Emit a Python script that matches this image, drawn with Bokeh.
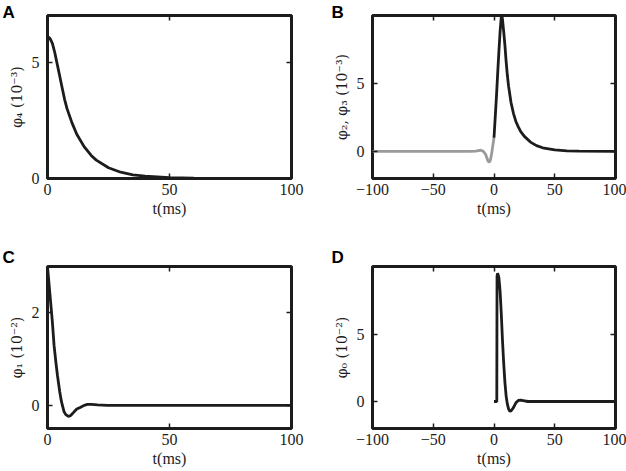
from bokeh.plotting import figure
from bokeh.layouts import gridplot
from bokeh.models import Range1d, LinearAxis, FixedTicker, Title, CustomLabelingPolicy
from bokeh.embed import file_html
from bokeh.resources import INLINE

# ---------------- data ----------------
# Panel A: phi_4 in units of 1e-3
a_t = [0, 1, 2, 3, 4, 5, 6, 7, 8, 10, 12, 15, 18, 20, 25, 30, 35, 40, 50, 60, 70, 100]
a_phi4 = [6.1, 6.02, 5.8, 5.4, 4.9, 4.4, 3.9, 3.4, 3.0, 2.4, 1.9, 1.37, 0.98, 0.79,
          0.46, 0.27, 0.16, 0.1, 0.04, 0.015, 0.005, 0.0]

# Panel B: phi_2 (t < 0, grey) and phi_3 (t >= 0, black), units of 1e-3
b_t_neg = [-100, -20, -15, -13, -11, -9, -7, -6, -5, -4, -3, -2, -1, 0]
b_phi2 = [0, 0, 0.02, 0.06, 0.08, 0.02, -0.2, -0.45, -0.7, -0.8, -0.65, -0.2, 0.4, 1.0]
b_t_pos = [0, 1, 2, 3, 4, 5, 6, 6.5, 7, 8, 9, 10, 11, 12, 14, 16, 18, 20, 22, 25, 30,
           35, 40, 50, 60, 70, 100]
b_phi3 = [1.0, 2.5, 4.0, 5.7, 7.3, 8.8, 9.9, 10.0, 9.7, 8.8, 7.8, 6.6, 5.6, 4.8, 3.6,
          2.8, 2.2, 1.8, 1.45, 1.1, 0.68, 0.42, 0.26, 0.1, 0.04, 0.01, 0.0]

# Panel C: phi_1 in units of 1e-2
c_t = [0, 0.5, 1, 1.5, 2, 2.7, 3.5, 4.1, 5, 5.5, 6, 6.8, 7.5, 8.6, 9.5, 10.9, 12, 13.6,
       15, 16.4, 18, 20.5, 24.5, 30, 100]
c_phi1 = [3.0, 2.7, 2.4, 2.1, 1.8, 1.29, 0.9, 0.64, 0.3, 0.14, 0.02, -0.14, -0.2, -0.24,
          -0.22, -0.14, -0.08, -0.04, 0.0, 0.02, 0.02, 0.01, 0.0, 0.0, 0.0]

# Panel D: phi_0 in units of 1e-2
d_t = [0, 2.3, 2.5, 3.0, 4, 5, 6, 7, 8, 9, 10, 11, 12, 13, 14, 16, 18, 20, 22, 25, 28, 35, 100]
d_phi0 = [0, 0, 9.3, 9.5, 9.2, 8.2, 6.5, 4.5, 2.8, 1.4, 0.4, -0.2, -0.55, -0.72, -0.7,
          -0.45, -0.1, 0.08, 0.1, 0.05, 0.0, 0.0, 0.0]

# axes / labels
x_ticks_pos = [0, 50, 100]
x_ticks_full = [-100, -50, 0, 50, 100]
x_label = "t(ms)"
labels_y = {"A": "φ₄ (10⁻³)", "B": "φ₂, φ₃ (10⁻³)", "C": "φ₁ (10⁻²)", "D": "φ₀ (10⁻²)"}
minus_overrides = {-100: "−100", -50: "−50"}

# ---------------- styling ----------------
INK = "#1c1c1c"
GREY = "#9a9a9a"
SERIF = "Liberation Serif"
SANS = "Liberation Sans"


def panel(letter, letter_offset, letter_standoff, xr, yr, xt, yt, w, h, l, r, t, b):
    p = figure(width=w, height=h, x_range=Range1d(*xr), y_range=Range1d(*yr),
               output_backend="svg", toolbar_location=None,
               min_border_left=l, min_border_right=r, min_border_top=t, min_border_bottom=b,
               background_fill_color="white", border_fill_color="white")
    p.title = Title(text=letter, align="left", vertical_align="bottom",
                    offset=letter_offset, standoff=letter_standoff,
                    text_font=SANS, text_font_size="17px", text_font_style="bold",
                    text_color="#000000")
    p.grid.visible = False
    p.outline_line_color = INK
    p.outline_line_width = 3
    top_ax = LinearAxis()
    right_ax = LinearAxis()
    p.add_layout(top_ax, "above")
    p.add_layout(right_ax, "right")
    for ax in p.xaxis:
        ax.ticker = FixedTicker(ticks=xt)
    for ax in p.yaxis:
        ax.ticker = FixedTicker(ticks=yt)
    for ax in p.axis:
        ax.axis_line_color = None
        ax.major_tick_in = 5
        ax.major_tick_out = 0
        ax.minor_tick_in = 0
        ax.minor_tick_out = 0
        ax.major_tick_line_color = INK
        ax.major_tick_line_width = 1.5
        ax.major_label_text_font = SERIF
        ax.major_label_text_font_size = "16px"
        ax.major_label_text_color = INK
        ax.axis_label_text_font = SERIF
        ax.axis_label_text_font_size = "16px"
        ax.axis_label_text_font_style = "normal"
        ax.axis_label_text_color = INK
    # top / right axes: inward ticks only, no labels drawn
    for ax in (top_ax, right_ax):
        ax.major_label_text_font_size = "0px"
        ax.major_label_standoff = 0
        ax.major_label_policy = CustomLabelingPolicy(code="")
    bx = p.below[0]
    bx.major_label_standoff = 5
    bx.axis_label = x_label
    bx.axis_label_standoff = 2
    bx.major_label_overrides = minus_overrides
    ly = p.left[0]
    ly.major_label_standoff = 8
    ly.axis_label = labels_y[letter]
    ly.axis_label_text_font = "DejaVu Serif"
    ly.axis_label_text_font_size = "14px"
    ly.axis_label_standoff = 4
    return p


pa = panel("A", -45, -12, (0, 100), (0, 7), x_ticks_pos, [0, 5], 313, 235, 47, 22, 15, 57)
pa.line(a_t, a_phi4, line_color=INK, line_width=2.8)

pb = panel("B", -41, -12, (-100, 100), (-2, 10), x_ticks_full, [0, 5], 313, 235, 59, 11, 15, 57)
pb.line(b_t_neg, b_phi2, line_color=GREY, line_width=2.8)
pb.line(b_t_pos, b_phi3, line_color=INK, line_width=2.8)

pc = panel("C", -45, 0, (0, 100), (-0.5, 3), x_ticks_pos, [0, 2], 313, 236, 47, 22, 31, 43)
pc.line(c_t, c_phi1, line_color=INK, line_width=2.8)

pd = panel("D", -41, 0, (-100, 100), (-2, 10), x_ticks_full, [0, 5], 313, 236, 58, 11, 31, 43)
pd.line(d_t, d_phi0, line_color=INK, line_width=2.8)

grid = gridplot([[pa, pb], [pc, pd]], toolbar_location=None)

open("out.html", "w").write(file_html(grid, INLINE))
